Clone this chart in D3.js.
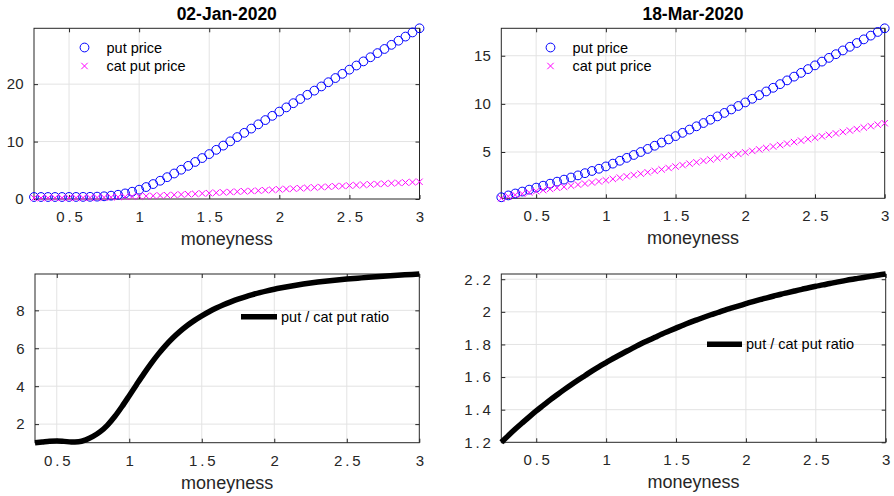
<!DOCTYPE html>
<html><head><meta charset="utf-8">
<script src="https://cdn.jsdelivr.net/npm/d3@7"></script>
<style>
html,body{margin:0;padding:0;background:#fff;}
svg{display:block;font-family:"Liberation Sans",Arial,Helvetica,sans-serif;}
</style></head>
<body><svg id="chart" width="894" height="496"></svg>
<script>
// ---------- data ----------
const moneyness = [0.25,0.30,0.35,0.40,0.45,0.50,0.55,0.60,0.65,0.70,0.75,0.80,0.85,0.90,0.95,1.00,
  1.05,1.10,1.15,1.20,1.25,1.30,1.35,1.40,1.45,1.50,1.55,1.60,1.65,1.70,1.75,1.80,1.85,1.90,1.95,2.00,
  2.05,2.10,2.15,2.20,2.25,2.30,2.35,2.40,2.45,2.50,2.55,2.60,2.65,2.70,2.75,2.80,2.85,2.90,2.95,3.00];

const titles = ["02-Jan-2020", "18-Mar-2020"];

// 02-Jan-2020
const putJan = [0.35,0.35,0.35,0.35,0.35,0.36,0.36,0.37,0.38,0.41,0.47,0.58,0.74,0.97,1.27,1.62,
  2.08,2.60,3.18,3.80,4.44,5.10,5.77,6.45,7.13,7.82,8.56,9.30,10.04,10.78,11.52,12.26,13.00,13.74,14.48,15.22,
  15.95,16.68,17.41,18.14,18.87,19.60,20.33,21.06,21.79,22.52,23.24,23.96,24.68,25.40,26.12,26.84,27.56,28.28,29.00,29.72];
const catJan = [0.18,0.18,0.19,0.20,0.20,0.20,0.21,0.22,0.23,0.25,0.27,0.30,0.34,0.38,0.42,0.46,
  0.51,0.56,0.61,0.66,0.72,0.78,0.84,0.90,0.96,1.02,1.09,1.15,1.22,1.28,1.34,1.40,1.46,1.53,1.60,1.67,
  1.74,1.81,1.87,1.94,2.00,2.07,2.14,2.21,2.27,2.34,2.41,2.47,2.54,2.61,2.67,2.74,2.80,2.87,2.93,3.00];
// ratio (starts at moneyness 0.35)
const ratioJan = [1.02,1.06,1.10,1.11,1.09,1.06,1.07,1.17,1.35,1.60,1.95,2.40,2.93,3.50,
  4.08,4.65,5.19,5.69,6.14,6.54,6.89,7.20,7.47,7.71,7.925,8.12,8.295,8.45,8.59,8.715,8.83,8.935,9.03,9.115,
  9.19,9.26,9.325,9.385,9.44,9.49,9.535,9.576,9.614,9.649,9.682,9.713,9.742,9.77,9.797,9.823,9.848,9.872,9.895,9.917];

// 18-Mar-2020
const putMar = [0.30,0.49,0.69,0.89,1.09,1.30,1.50,1.71,1.92,2.13,2.35,2.57,2.80,3.03,3.26,3.50,
  3.79,4.09,4.39,4.69,5.00,5.32,5.65,5.98,6.31,6.65,6.99,7.33,7.67,8.01,8.35,8.70,9.06,9.42,9.78,10.15,
  10.53,10.91,11.29,11.67,12.05,12.44,12.83,13.22,13.61,14.00,14.39,14.78,15.16,15.55,15.93,16.32,16.70,17.09,17.47,17.85];
const catMar = [0.19,0.39,0.54,0.67,0.80,0.93,1.04,1.16,1.28,1.38,1.50,1.61,1.72,1.83,1.94,2.06,
  2.20,2.34,2.47,2.61,2.75,2.89,3.04,3.19,3.34,3.49,3.64,3.79,3.93,4.08,4.22,4.36,4.51,4.66,4.80,4.96,
  5.11,5.27,5.42,5.57,5.72,5.87,6.03,6.18,6.33,6.48,6.63,6.78,6.93,7.08,7.23,7.38,7.54,7.69,7.84,7.99];
const ratioMar = [1.200,1.241,1.281,1.319,1.356,1.392,1.426,1.460,1.492,1.523,1.553,1.582,1.610,1.638,1.664,1.689,
  1.714,1.737,1.760,1.782,1.804,1.824,1.844,1.864,1.882,1.900,1.918,1.935,1.951,1.967,1.982,1.996,2.011,2.024,2.037,2.050,
  2.063,2.075,2.086,2.097,2.108,2.118,2.128,2.138,2.148,2.157,2.165,2.174,2.182,2.190,2.198,2.205,2.212,2.219,2.226,2.232];

const xTicks = [0.5, 1, 1.5, 2, 2.5, 3];
const yTicksPutJan = [0, 10, 20];
const yTicksPutMar = [5, 10, 15];
const yTicksRatioJan = [2, 4, 6, 8];
const yTicksRatioMar = [1.2, 1.4, 1.6, 1.8, 2, 2.2];
const legendPrices = ["put price", "cat put price"];
const legendRatio = "put / cat put ratio";
const xLabel = "moneyness";

// ---------- drawing ----------
const svg = d3.select("#chart");
const AX = "#262626", GRID = "#e3e3e3", FS = 15;
const fmt = d3.format("~g");

// MATLAB-like spacing around decimal point
function spacedLabels(sel) {
  sel.selectAll(".tick text").each(function(d) {
    const s = fmt(d);
    const t = d3.select(this);
    if (s.indexOf(".") < 0) return;
    const [a, b] = s.split(".");
    t.text(null);
    t.append("tspan").text(a);
    t.append("tspan").attr("dx", 2.8).text(".");
    t.append("tspan").attr("dx", 2.8).text(b);
  });
}

function panel(o) {
  const x = d3.scaleLinear().domain(o.xd).range([o.x0, o.x1]);
  const y = d3.scaleLinear().domain(o.yd).range([o.y1, o.y0]);
  const g = svg.append("g");
  // grid
  g.append("g").selectAll("line").data(o.xt.filter(d => d > o.xd[0] && d < o.xd[1])).join("line")
    .attr("x1", d => x(d)).attr("x2", d => x(d)).attr("y1", o.y0).attr("y2", o.y1)
    .attr("stroke", GRID).attr("stroke-width", 1);
  g.append("g").selectAll("line").data(o.yt.filter(d => d > o.yd[0] && d < o.yd[1])).join("line")
    .attr("x1", o.x0).attr("x2", o.x1).attr("y1", d => y(d)).attr("y2", d => y(d))
    .attr("stroke", GRID).attr("stroke-width", 1);
  // axes (ticks inward, box)
  const styleAxis = sel => {
    sel.select(".domain").remove();
    sel.selectAll(".tick line").attr("stroke", AX);
    sel.selectAll(".tick text").attr("fill", "#262626").style("font-size", FS + "px")
      .style("font-family", '"Liberation Sans",Arial,sans-serif');
  };
  g.append("g").attr("transform", `translate(0,${o.y1})`)
    .call(d3.axisBottom(x).tickValues(o.xt).tickFormat(fmt).tickSizeInner(-4).tickSizeOuter(0).tickPadding(12.5))
    .call(styleAxis).call(spacedLabels);
  g.append("g").attr("transform", `translate(0,${o.y0})`)
    .call(d3.axisTop(x).tickValues(o.xt).tickFormat("").tickSizeInner(-4).tickSizeOuter(0))
    .call(styleAxis);
  g.append("g").attr("transform", `translate(${o.x0},0)`)
    .call(d3.axisLeft(y).tickValues(o.yt).tickFormat(fmt).tickSizeInner(-4).tickSizeOuter(0).tickPadding(10.5))
    .call(styleAxis).call(spacedLabels);
  g.append("g").attr("transform", `translate(${o.x1},0)`)
    .call(d3.axisRight(y).tickValues(o.yt).tickFormat("").tickSizeInner(-4).tickSizeOuter(0))
    .call(styleAxis);
  g.append("rect").attr("x", o.x0).attr("y", o.y0).attr("width", o.x1 - o.x0).attr("height", o.y1 - o.y0)
    .attr("fill", "none").attr("stroke", AX).attr("stroke-width", 1);
  // x label
  g.append("text").attr("x", (o.x0 + o.x1) / 2).attr("y", o.y1 + 46).attr("text-anchor", "middle")
    .style("font-size", "18px").attr("fill", "#262626").text(xLabel);
  if (o.title) {
    g.append("text").attr("x", (o.x0 + o.x1) / 2).attr("y", o.y0 - 8.5).attr("text-anchor", "middle")
      .style("font-size", "17.5px").style("font-weight", "bold").attr("fill", "#000").text(o.title);
  }
  return {g, x, y};
}

function pricePanel(o, put, cat, legX) {
  const {g, x, y} = panel(o);
  const s = 3.2, R = 4.4;
  g.append("g").selectAll("circle").data(moneyness).join("circle")
    .attr("cx", d => x(d)).attr("cy", (d, i) => y(put[i])).attr("r", R)
    .attr("fill", "none").attr("stroke", "#0000ff").attr("stroke-width", 1);
  g.append("g").selectAll("path").data(moneyness).join("path")
    .attr("d", (d, i) => {
      const cx = x(d), cy = y(cat[i]);
      return `M${cx - s},${cy - s}L${cx + s},${cy + s}M${cx - s},${cy + s}L${cx + s},${cy - s}`;
    })
    .attr("fill", "none").attr("stroke", "#ff00ff").attr("stroke-width", 1);
  // legend
  const lg = g.append("g");
  lg.append("circle").attr("cx", legX).attr("cy", 47.5).attr("r", R)
    .attr("fill", "none").attr("stroke", "#0000ff");
  const cy = 66;
  lg.append("path").attr("d", `M${legX - s},${cy - s}L${legX + s},${cy + s}M${legX - s},${cy + s}L${legX + s},${cy - s}`)
    .attr("stroke", "#ff00ff").attr("fill", "none");
  lg.selectAll("text").data(legendPrices).join("text")
    .attr("x", legX + 22).attr("y", (d, i) => 52.5 + i * 18.5)
    .style("font-size", "14.5px").attr("fill", "#000").text(d => d);
}

function ratioPanel(o, xs, ratio, leg) {
  const {g, x, y} = panel(o);
  const line = d3.line().x((d, i) => x(xs[i])).y(d => y(d)).curve(d3.curveMonotoneX);
  g.append("path").datum(ratio).attr("d", line)
    .attr("fill", "none").attr("stroke", "#000").attr("stroke-width", 5.5)
    .attr("stroke-linejoin", "round");
  g.append("line").attr("x1", leg.x1).attr("x2", leg.x2).attr("y1", leg.y).attr("y2", leg.y)
    .attr("stroke", "#000").attr("stroke-width", 5.5);
  g.append("text").attr("x", leg.x2 + 4).attr("y", leg.y + 5)
    .style("font-size", "14.5px").attr("fill", "#000").text(legendRatio);
}

pricePanel({x0: 34, x1: 419.5, y0: 28.3, y1: 199, xd: [0.25, 3], yd: [0, d3.max(putJan)],
  xt: xTicks, yt: yTicksPutJan, title: titles[0]}, putJan, catJan, 84.5);
pricePanel({x0: 501.3, x1: 884.7, y0: 28.3, y1: 198.3, xd: [0.25, 3],
  yd: [d3.min(catMar), d3.max(putMar)], xt: xTicks, yt: yTicksPutMar, title: titles[1]}, putMar, catMar, 550.5);

const xsJan = moneyness.slice(2);
ratioPanel({x0: 35, x1: 419.3, y0: 274, y1: 442.7, xd: [0.35, 3], yd: d3.extent(ratioJan),
  xt: xTicks, yt: yTicksRatioJan}, xsJan, ratioJan, {x1: 241, x2: 277, y: 316.7});
ratioPanel({x0: 501.3, x1: 885.7, y0: 274, y1: 442.3, xd: [0.25, 3], yd: d3.extent(ratioMar),
  xt: xTicks, yt: yTicksRatioMar}, moneyness, ratioMar, {x1: 707, x2: 742, y: 344.3});
</script></body></html>
